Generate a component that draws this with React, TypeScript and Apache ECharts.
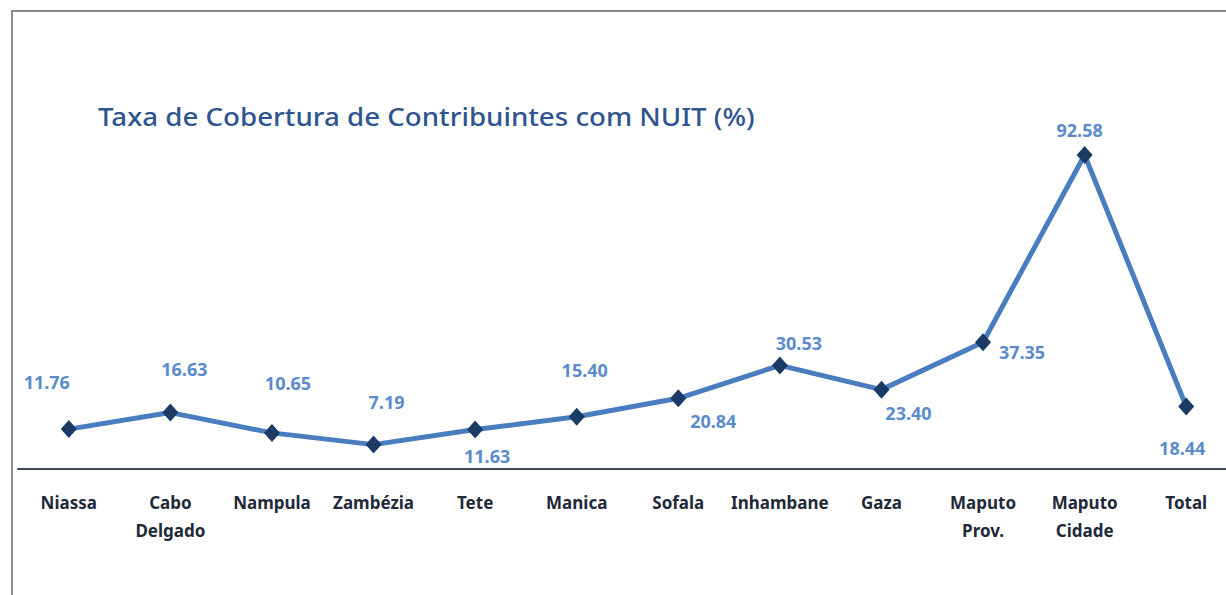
import React, { useEffect, useRef } from "react";
import * as echarts from "echarts";

const categories = [
  "Niassa",
  "Cabo\nDelgado",
  "Nampula",
  "Zambézia",
  "Tete",
  "Manica",
  "Sofala",
  "Inhambane",
  "Gaza",
  "Maputo\nProv.",
  "Maputo\nCidade",
  "Total",
];

const values = [11.76, 16.63, 10.65, 7.19, 11.63, 15.4, 20.84, 30.53, 23.4, 37.35, 92.58, 18.44];

const titleText = "Taxa de Cobertura de Contribuintes com NUIT (%)";

// label placement (layout only)
const labelOffsets: [number, number][] = [
  [-22, -47],
  [14, -44],
  [16, -50],
  [13, -43],
  [12, 26],
  [8, -47],
  [35, 23],
  [19, -22],
  [27, 23],
  [39, 10],
  [-5, -25],
  [-4, 42],
];

export default function App() {
  const ref = useRef<HTMLDivElement>(null);
  useEffect(() => {
    if (!ref.current) return;
    const chart = echarts.init(ref.current, null, { renderer: "svg" });
    chart.setOption({
      animation: false,
      backgroundColor: "#ffffff",
      graphic: [
        {
          type: "rect",
          shape: { x: 12, y: 11, width: 1400, height: 800 },
          style: { fill: "none", stroke: "#8a8a8a", lineWidth: 2 },
          z: 0,
        },
        {
          type: "text",
          x: 98,
          y: 117,
          scaleX: 1.108,
          style: {
            text: titleText,
            fontFamily: "Noto Sans",
            fontSize: 25,
            fontWeight: 500,
            fill: "#2F5590",
            verticalAlign: "middle",
          },
        },
      ],
      grid: {
        left: 18,
        width: 1219,
        top: 129.8,
        height: 339.2,
        containLabel: false,
        outerBoundsMode: "none",
      },
      xAxis: {
        type: "category",
        data: categories,
        boundaryGap: true,
        axisLine: { show: true, lineStyle: { color: "#3f4a5a", width: 2 } },
        axisTick: { show: false },
        axisLabel: {
          interval: 0,
          margin: 19,
          fontFamily: "Noto Sans",
          fontWeight: "bold",
          fontSize: 17,
          color: "#1e2a3a",
          lineHeight: 28,
          hideOverlap: false,
        },
      },
      yAxis: {
        type: "value",
        min: 0,
        max: 100,
        show: false,
        splitLine: { show: false },
      },
      series: [
        {
          type: "line",
          data: values.map((v, i) => ({
            value: v,
            label: { offset: labelOffsets[i] },
          })),
          symbol: "diamond",
          symbolSize: [16, 18],
          itemStyle: { color: "#1B3A66" },
          lineStyle: { color: "#4A7DBF", width: 5 },
          label: {
            show: true,
            position: "inside",
            align: "center",
            verticalAlign: "middle",
            formatter: (p: any) => p.value.toFixed(2),
            fontFamily: "Noto Sans",
            fontWeight: "bold",
            fontSize: 18,
            color: "#5B8BCB",
          },
          z: 3,
        },
      ],
    });
    return () => chart.dispose();
  }, []);
  return (
    <div
      ref={ref}
      style={{ position: "fixed", left: 0, top: 0, width: 1226, height: 595 }}
    />
  );
}
